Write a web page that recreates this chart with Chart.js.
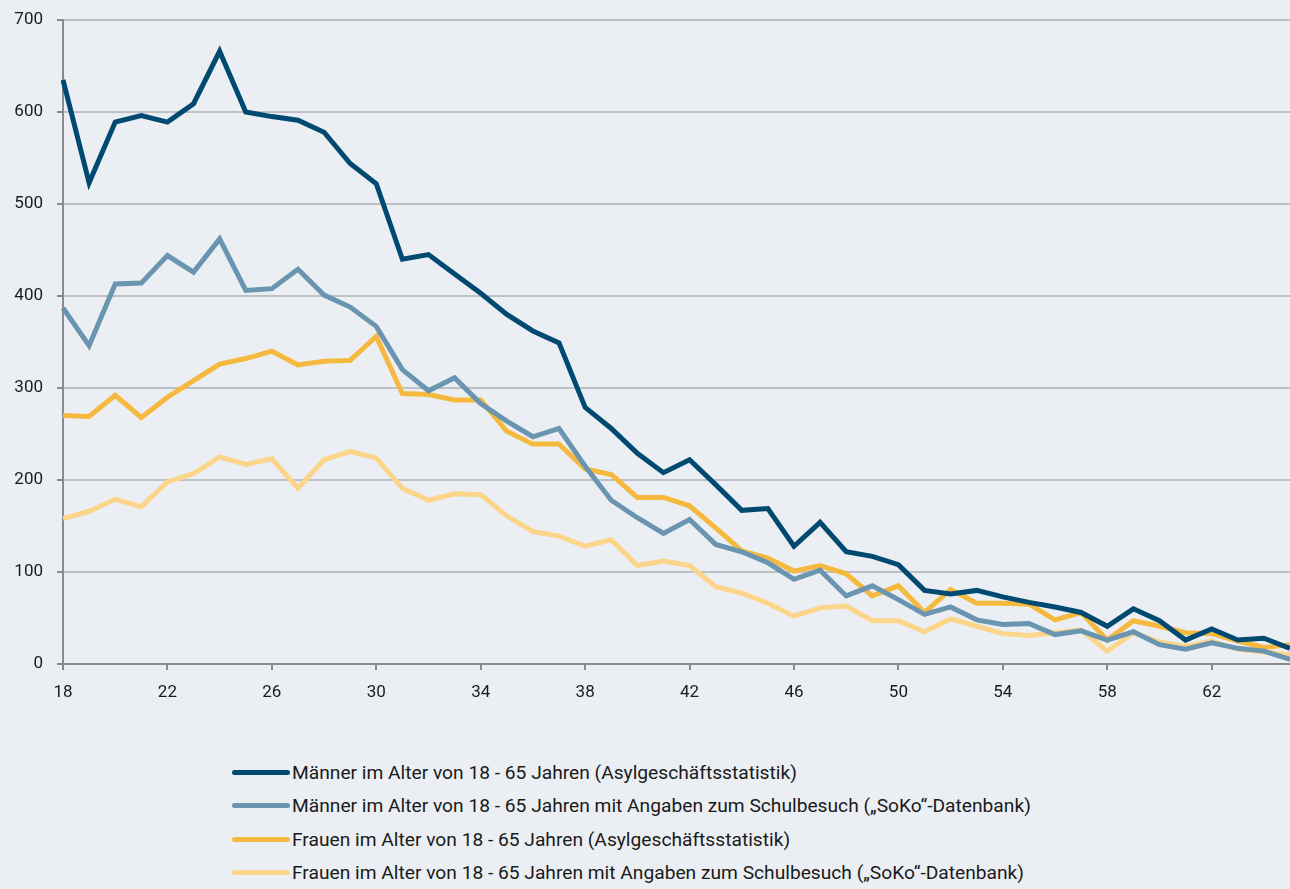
<!DOCTYPE html>
<html lang="de">
<head>
<meta charset="utf-8">
<title>Altersverteilung</title>
<script src="https://cdn.jsdelivr.net/npm/chart.js@4/dist/chart.umd.min.js"></script>
<style>
    html, body {
        margin: 0;
        padding: 0;
        background: #ebeff3;
        font-family: Roboto, sans-serif;
    }
    #wrap {
        position: relative;
        width: 1290px;
        height: 710px;
    }
    #legend {
        margin: 46px 0 0 232px;
        padding: 0;
        list-style: none;
    }
    #legend li {
        display: flex;
        align-items: center;
        height: 33.3px;
        font-size: 19.2px;
        color: #1a1a1a;
    }
    #legend .swatch {
        display: inline-block;
        width: 58px;
        height: 5px;
        border-radius: 3px;
        margin-right: 2px;
    }
</style>
</head>
<body>
<div id="wrap"><canvas id="ageChart"></canvas></div>
<ul id="legend"></ul>

<script>
    // Alter 18 bis 65
    const ages = [];
    for (let a = 18; a <= 65; a++) ages.push(a);

    const maennerAsyl = [
        635, 523, 589, 596, 589, 609, 666, 600, 595, 591, 578, 544, 522, 440, 445, 424,
        403, 380, 362, 349, 279, 256, 229, 208, 222, 195, 167, 169, 128, 154, 122, 117,
        108, 80, 76, 80, 73, 67, 62, 56, 41, 60, 47, 26, 38, 26, 28, 17
    ];
    const maennerSoko = [
        387, 346, 413, 414, 444, 426, 462, 406, 408, 429, 401, 388, 367, 320, 297, 311,
        283, 264, 247, 256, 215, 178, 159, 142, 157, 130, 122, 110, 92, 102, 74, 85,
        70, 54, 62, 48, 43, 44, 32, 36, 26, 35, 21, 16, 23, 17, 14, 5
    ];
    const frauenAsyl = [
        270, 269, 292, 268, 290, 308, 326, 332, 340, 325, 329, 330, 356, 294, 293, 287,
        287, 253, 239, 239, 212, 206, 181, 181, 172, 148, 123, 115, 101, 107, 98, 74,
        85, 56, 81, 66, 66, 65, 48, 56, 26, 47, 41, 34, 33, 25, 18, 21
    ];
    const frauenSoko = [
        158, 166, 179, 171, 198, 207, 225, 217, 223, 191, 222, 231, 224, 191, 178, 185,
        184, 161, 144, 139, 128, 135, 107, 112, 107, 84, 77, 66, 52, 61, 63, 47,
        47, 35, 49, 41, 33, 31, 34, 37, 14, 34, 24, 19, 25, 16, 13, 10
    ];

    const seriesNames = [
        "Männer im Alter von 18 - 65 Jahren (Asylgeschäftsstatistik)",
        "Männer im Alter von 18 - 65 Jahren mit Angaben zum Schulbesuch (\u201eSoKo\u201c-Datenbank)",
        "Frauen im Alter von 18 - 65 Jahren (Asylgeschäftsstatistik)",
        "Frauen im Alter von 18 - 65 Jahren mit Angaben zum Schulbesuch (\u201eSoKo\u201c-Datenbank)"
    ];
    const seriesColors = ["#004a72", "#6a95b1", "#f6b93f", "#fbd589"];
    const seriesValues = [maennerAsyl, maennerSoko, frauenAsyl, frauenSoko];

    const yTicks = [0, 100, 200, 300, 400, 500, 600, 700];

    const datasets = seriesValues.map((vals, i) => ({
        label: seriesNames[i],
        data: vals,
        borderColor: seriesColors[i],
        backgroundColor: seriesColors[i],
        borderWidth: 5,
        pointRadius: 0,
        tension: 0,
        borderJoinStyle: "miter",
        order: i
    }));

    // Achsen sollen bis an den Rand reichen
    function noEdgePadding(scale) {
        scale.paddingLeft = 0;
        scale.paddingRight = 0;
        scale.paddingTop = 0;
        scale.paddingBottom = 0;
    }

    const ctx = document.getElementById("ageChart").getContext("2d");
    window.ageChart = new Chart(ctx, {
        type: "line",
        data: {
            labels: ages,
            datasets: datasets
        },
        options: {
            responsive: true,
            maintainAspectRatio: false,
            animation: false,
            layout: {
                padding: { top: 20, right: 0, left: 0, bottom: 0 }
            },
            plugins: {
                legend: { display: false },
                tooltip: { enabled: false }
            },
            scales: {
                x: {
                    type: "category",
                    offset: false,
                    afterFit: scale => {
                        scale.height = 46;
                        noEdgePadding(scale);
                    },
                    border: { color: "#8a8a8a", width: 2 },
                    grid: {
                        drawOnChartArea: false,
                        drawTicks: true,
                        tickLength: 6,
                        lineWidth: 2,
                        color: c => (c.index % 4 === 0 ? "#8a8a8a" : "rgba(0,0,0,0)")
                    },
                    ticks: {
                        autoSkip: false,
                        maxRotation: 0,
                        padding: 13,
                        color: "#1a1a1a",
                        font: { family: "Roboto", size: 17 },
                        callback: function (val, idx) {
                            return idx % 4 === 0 ? this.getLabelForValue(val) : "";
                        }
                    }
                },
                y: {
                    min: 0,
                    max: 700,
                    afterFit: scale => {
                        scale.width = 63;
                        noEdgePadding(scale);
                    },
                    afterBuildTicks: scale => {
                        scale.ticks = yTicks.map(v => ({ value: v }));
                    },
                    border: { color: "#8a8a8a", width: 2 },
                    grid: {
                        color: "#bdc0c4",
                        lineWidth: 2,
                        tickLength: 6,
                        tickColor: "#8a8a8a"
                    },
                    ticks: {
                        padding: 14,
                        color: "#1a1a1a",
                        font: { family: "Roboto", size: 17 }
                    }
                }
            }
        }
    });

    // Legende als Liste unter dem Diagramm
    const legend = document.getElementById("legend");
    datasets.forEach(ds => {
        const li = document.createElement("li");
        const sw = document.createElement("span");
        sw.className = "swatch";
        sw.style.background = ds.borderColor;
        li.appendChild(sw);
        li.appendChild(document.createTextNode(ds.label));
        legend.appendChild(li);
    });
</script>
</body>
</html>
